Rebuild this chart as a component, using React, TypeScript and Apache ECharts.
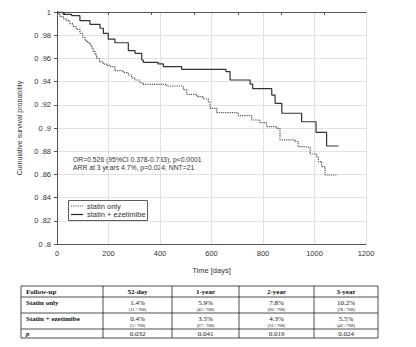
import React, { useEffect, useRef } from "react";
import * as echarts from "echarts";

// ---- data ----
const solidDays = [0, 24, 57, 89, 128, 167, 180, 199, 225, 277, 303, 329, 335, 393, 413, 484, 656, 672, 750, 760, 834, 847, 873, 950, 1006, 1047, 1093];
const solidSurv = [1, 0.998, 0.9968, 0.9925, 0.9894, 0.986, 0.9816, 0.9767, 0.9735, 0.9667, 0.9644, 0.9586, 0.9566, 0.9552, 0.9529, 0.9506, 0.9486, 0.9414, 0.9379, 0.9339, 0.9284, 0.9213, 0.9127, 0.9054, 0.8963, 0.8845, 0.8845];

const dottedDays = [0, 5, 12, 25, 38, 50, 63, 75, 89, 100, 109, 118, 128, 135, 141, 148, 154, 165, 180, 195, 206, 225, 258, 277, 290, 303, 320, 333, 426, 484, 491, 504, 543, 568, 588, 594, 620, 704, 756, 788, 814, 853, 866, 924, 937, 963, 983, 1008, 1015, 1028, 1041, 1089];
const dottedSurv = [1, 0.998, 0.996, 0.994, 0.9925, 0.99, 0.9874, 0.985, 0.9816, 0.978, 0.9753, 0.9735, 0.9716, 0.969, 0.9658, 0.963, 0.96, 0.957, 0.955, 0.954, 0.9529, 0.9494, 0.9477, 0.9457, 0.943, 0.9414, 0.939, 0.9376, 0.9362, 0.9356, 0.9328, 0.929, 0.927, 0.925, 0.9227, 0.917, 0.9132, 0.9106, 0.9069, 0.9046, 0.9012, 0.8997, 0.8897, 0.8882, 0.8839, 0.8833, 0.8776, 0.8753, 0.871, 0.8667, 0.8595, 0.8595];

const seriesNames = ["statin only", "statin + ezetimibe"];
const annotationLines = ["OR=0.526 (95%CI 0.378-0.733), p<0.0001", "ARR at 3 years 4.7%, p=0.024; NNT=21"];
const topTickDays = [30, 198, 366, 534, 702, 870, 1038];

const tableHeader = ["Follow-up", "52-day", "1-year", "2-year", "3-year"];
const rowLabels = ["Statin only", "Statin + ezetimibe", "p"];
const statinOnlyPct = ["1.4%", "5.9%", "7.8%", "10.2%"];
const statinOnlyN = ["(11 / 768)", "(45 / 768)", "(60 / 768)", "(78 / 768)"];
const ezetPct = ["0.4%", "3.5%", "4.3%", "5.5%"];
const ezetN = ["(3 / 768)", "(27 / 768)", "(33 / 768)", "(42 / 768)"];
const pValues = ["0.032", "0.041", "0.019", "0.024"];

const SANS = "Liberation Sans, Arial, sans-serif";
const SERIF = "Liberation Serif, Times New Roman, serif";

function buildTable(): any[] {
  const xs = [21, 103, 172, 239, 314, 378];
  const ys = [286, 297, 313, 329, 338];
  const els: any[] = [];
  const lineStyle = { stroke: "#222", lineWidth: 0.8 };
  els.push({ type: "rect", shape: { x: xs[0], y: ys[0], width: xs[5] - xs[0], height: ys[4] - ys[0] }, style: { fill: "#fff", stroke: "#222", lineWidth: 0.8 } });
  for (let i = 1; i < xs.length - 1; i++) {
    els.push({ type: "line", shape: { x1: xs[i], y1: ys[0], x2: xs[i], y2: ys[4] }, style: lineStyle });
  }
  for (let j = 1; j < ys.length - 1; j++) {
    els.push({ type: "line", shape: { x1: xs[0], y1: ys[j], x2: xs[5], y2: ys[j] }, style: lineStyle });
  }
  const cx = (i: number) => (xs[i] + xs[i + 1]) / 2;
  const txt = (x: number, y: number, t: string, size: number, bold: boolean, align: string, italic = false) => ({
    type: "text",
    x,
    y,
    style: {
      text: t,
      fill: "#111",
      font: `${italic ? "italic " : ""}${bold ? "bold " : ""}${size}px ${SERIF}`,
      align,
      verticalAlign: "middle",
    },
  });
  tableHeader.forEach((h, i) => {
    els.push(txt(i === 0 ? 26 : cx(i), 291.5, h, 7, true, i === 0 ? "left" : "center"));
  });
  els.push(txt(26, 302.5, rowLabels[0], 7, true, "left"));
  els.push(txt(26, 318.5, rowLabels[1], 7, true, "left"));
  els.push(txt(26, 334, rowLabels[2], 7, true, "left", true));
  for (let k = 0; k < 4; k++) {
    els.push(txt(cx(k + 1), 302.5, statinOnlyPct[k], 7, false, "center"));
    els.push(txt(cx(k + 1), 309.8, statinOnlyN[k], 4.5, false, "center"));
    els.push(txt(cx(k + 1), 318.5, ezetPct[k], 7, false, "center"));
    els.push(txt(cx(k + 1), 325.5, ezetN[k], 4.5, false, "center"));
    els.push(txt(cx(k + 1), 333.6, pValues[k], 7, false, "center"));
  }
  return els;
}

export default function App() {
  const ref = useRef<HTMLDivElement>(null);
  useEffect(() => {
    if (!ref.current) return;
    const chart = echarts.init(ref.current, undefined, { renderer: "svg" });
    const yFmt = (v: number) => {
      const s = String(Math.round(v * 100) / 100);
      return s === "1" ? "1" : s.replace("0.", "0 .");
    };
    const xFmt = (v: number) => String(Math.round(v));
    const axisLine = { show: true, lineStyle: { color: "#555", width: 1 } };
    chart.setOption({
      animation: false,
      backgroundColor: "#fff",
      grid: { left: 57, right: 50, top: 12, bottom: 103, containLabel: false },
      xAxis: [
        {
          type: "value",
          min: 0,
          max: 1200,
          interval: 200,
          position: "bottom",
          name: "Time [days]",
          nameLocation: "middle",
          nameGap: 22,
          nameTextStyle: { fontFamily: SANS, fontSize: 7.5, color: "#333" },
          axisLine,
          axisTick: { show: false },
          axisLabel: { fontFamily: SANS, fontSize: 7.5, color: "#333", margin: 5, formatter: xFmt },
          splitLine: { show: true, lineStyle: { color: "#e2e2e2", width: 1 } },
        },
        {
          type: "value",
          min: 0,
          max: 1200,
          position: "top",
          axisLine,
          axisTick: { show: true, inside: true, length: 3, lineStyle: { color: "#555" }, customValues: topTickDays },
          axisLabel: { show: false },
          splitLine: { show: false },
        },
      ],
      yAxis: [
        {
          type: "value",
          min: 0.8,
          max: 1,
          interval: 0.02,
          name: "Cumulative survival probability",
          nameLocation: "middle",
          nameRotate: 90,
          nameGap: 24,
          nameTextStyle: { fontFamily: SANS, fontSize: 7, color: "#333" },
          axisLine,
          axisTick: { show: false },
          axisLabel: { fontFamily: SANS, fontSize: 7.5, color: "#333", margin: 6, formatter: yFmt },
          splitLine: { show: true, lineStyle: { color: "#e2e2e2", width: 1 } },
        },
        {
          type: "value",
          min: 0.8,
          max: 1,
          interval: 0.02,
          position: "right",
          axisLine,
          axisTick: { show: true, inside: true, length: 3, lineStyle: { color: "#555" } },
          axisLabel: { show: false },
          splitLine: { show: false },
        },
      ],
      series: [
        {
          name: seriesNames[0],
          type: "line",
          step: "end",
          showSymbol: false,
          xAxisIndex: 0,
          yAxisIndex: 0,
          data: dottedDays.map((d, i) => [d, dottedSurv[i]]),
          lineStyle: { color: "#555", width: 1.2, type: [1.2, 1] },
          z: 3,
        },
        {
          name: seriesNames[1],
          type: "line",
          step: "end",
          showSymbol: false,
          xAxisIndex: 0,
          yAxisIndex: 0,
          data: solidDays.map((d, i) => [d, solidSurv[i]]),
          lineStyle: { color: "#333", width: 1.2, type: "solid" },
          z: 4,
        },
      ],
      graphic: [
        {
          type: "text",
          x: 73,
          y: 159,
          style: { text: annotationLines[0], font: `6.8px ${SANS}`, fill: "#333", verticalAlign: "middle" },
        },
        {
          type: "text",
          x: 73,
          y: 167.5,
          style: { text: annotationLines[1], font: `6.8px ${SANS}`, fill: "#333", verticalAlign: "middle" },
        },
        {
          type: "rect",
          shape: { x: 68.5, y: 200.5, width: 79, height: 20 },
          style: { fill: "#fff", stroke: "#333", lineWidth: 0.8 },
          z: 10,
        },
        {
          type: "line",
          shape: { x1: 71, y1: 206, x2: 83, y2: 206 },
          style: { stroke: "#555", lineWidth: 1, lineDash: [1.2, 1] },
          z: 11,
        },
        {
          type: "line",
          shape: { x1: 71, y1: 214.5, x2: 83, y2: 214.5 },
          style: { stroke: "#222", lineWidth: 1.2 },
          z: 11,
        },
        {
          type: "text",
          x: 87,
          y: 206,
          style: { text: seriesNames[0], font: `7.5px ${SANS}`, fill: "#333", verticalAlign: "middle" },
          z: 11,
        },
        {
          type: "text",
          x: 87,
          y: 214.5,
          style: { text: seriesNames[1], font: `7.5px ${SANS}`, fill: "#333", verticalAlign: "middle" },
          z: 11,
        },
        ...buildTable(),
      ],
    });
    return () => chart.dispose();
  }, []);
  return <div ref={ref} style={{ position: "fixed", left: 0, top: 0, width: 416, height: 347, background: "#fff" }} />;
}
